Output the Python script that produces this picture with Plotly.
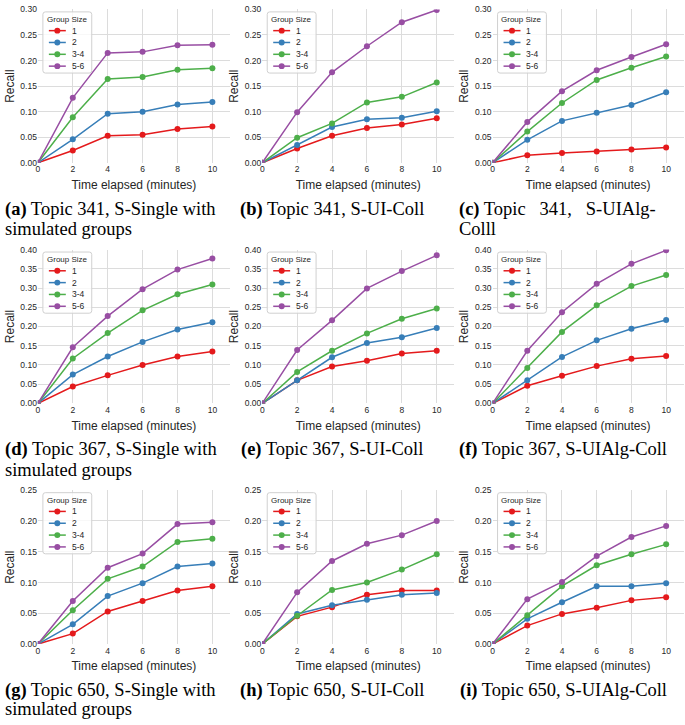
import plotly.graph_objects as go

W, H = 685, 725

# ---------------- data ----------------
times = [0, 2, 4, 6, 8, 10]
group_labels = ["1", "2", "3-4", "5-6"]
group_colors = ["#e41a1c", "#377eb8", "#4daf4a", "#984ea3"]

x_ticks = [0, 2, 4, 6, 8, 10]
y_ranges = [[0, 0.30], [0, 0.40], [0, 0.25]]  # one per row

# (a) Topic 341, S-Single with simulated groups
a_g1 = [0.0, 0.024, 0.053, 0.055, 0.066, 0.071]
a_g2 = [0.0, 0.046, 0.096, 0.100, 0.114, 0.119]
a_g34 = [0.0, 0.089, 0.164, 0.168, 0.182, 0.185]
a_g56 = [0.0, 0.127, 0.215, 0.217, 0.230, 0.231]
# (b) Topic 341, S-UI-Coll
b_g1 = [0.0, 0.028, 0.053, 0.068, 0.075, 0.087]
b_g2 = [0.0, 0.035, 0.070, 0.085, 0.088, 0.101]
b_g34 = [0.0, 0.049, 0.077, 0.118, 0.129, 0.157]
b_g56 = [0.0, 0.099, 0.177, 0.228, 0.275, 0.299]
# (c) Topic 341, S-UIAlg-Colll
c_g1 = [0.0, 0.015, 0.019, 0.022, 0.026, 0.030]
c_g2 = [0.0, 0.045, 0.082, 0.098, 0.113, 0.138]
c_g34 = [0.0, 0.061, 0.117, 0.162, 0.186, 0.208]
c_g56 = [0.0, 0.080, 0.140, 0.181, 0.207, 0.232]
# (d) Topic 367, S-Single with simulated groups
d_g1 = [0.0, 0.044, 0.073, 0.100, 0.122, 0.135]
d_g2 = [0.0, 0.075, 0.122, 0.160, 0.192, 0.211]
d_g34 = [0.0, 0.117, 0.183, 0.242, 0.284, 0.309]
d_g56 = [0.0, 0.146, 0.227, 0.297, 0.348, 0.377]
# (e) Topic 367, S-UI-Coll
e_g1 = [0.0, 0.060, 0.096, 0.111, 0.130, 0.137]
e_g2 = [0.0, 0.060, 0.120, 0.157, 0.172, 0.196]
e_g34 = [0.0, 0.082, 0.137, 0.182, 0.220, 0.247]
e_g56 = [0.0, 0.139, 0.216, 0.299, 0.344, 0.385]
# (f) Topic 367, S-UIAlg-Coll
f_g1 = [0.0, 0.046, 0.072, 0.097, 0.116, 0.123]
f_g2 = [0.0, 0.060, 0.121, 0.164, 0.194, 0.217]
f_g34 = [0.0, 0.092, 0.186, 0.255, 0.305, 0.334]
f_g56 = [0.0, 0.137, 0.237, 0.311, 0.363, 0.398]
# (g) Topic 650, S-Single with simulated groups
g_g1 = [0.0, 0.017, 0.053, 0.070, 0.087, 0.094]
g_g2 = [0.0, 0.032, 0.078, 0.099, 0.126, 0.131]
g_g34 = [0.0, 0.055, 0.106, 0.126, 0.166, 0.171]
g_g56 = [0.0, 0.070, 0.124, 0.147, 0.195, 0.198]
# (h) Topic 650, S-UI-Coll
h_g1 = [0.0, 0.045, 0.060, 0.080, 0.087, 0.087]
h_g2 = [0.0, 0.049, 0.063, 0.072, 0.080, 0.083]
h_g34 = [0.0, 0.046, 0.088, 0.100, 0.121, 0.146]
h_g56 = [0.0, 0.084, 0.135, 0.163, 0.177, 0.200]
# (i) Topic 650, S-UIAlg-Coll
i_g1 = [0.0, 0.030, 0.049, 0.059, 0.071, 0.076]
i_g2 = [0.0, 0.041, 0.068, 0.094, 0.094, 0.099]
i_g34 = [0.0, 0.047, 0.094, 0.128, 0.146, 0.162]
i_g56 = [0.0, 0.073, 0.101, 0.143, 0.174, 0.192]

panels = [
    [a_g1, a_g2, a_g34, a_g56],
    [b_g1, b_g2, b_g34, b_g56],
    [c_g1, c_g2, c_g34, c_g56],
    [d_g1, d_g2, d_g34, d_g56],
    [e_g1, e_g2, e_g34, e_g56],
    [f_g1, f_g2, f_g34, f_g56],
    [g_g1, g_g2, g_g34, g_g56],
    [h_g1, h_g2, h_g34, h_g56],
    [i_g1, i_g2, i_g34, i_g56],
]

# captions: (lines, anchor mode)
captions = [
    (["<b>(a)</b> Topic 341, S-Single with", "simulated groups"], "left"),
    (["<b>(b)</b> Topic 341, S-UI-Coll"], "center"),
    (["<b>(c)</b> Topic\u00a0\u00a0\u00a0341,\u00a0\u00a0\u00a0S-UIAlg-", "Colll"], "left"),
    (["<b>(d)</b> Topic 367, S-Single with", "simulated groups"], "left"),
    (["<b>(e)</b> Topic 367, S-UI-Coll"], "center"),
    (["<b>(f)</b> Topic 367, S-UIAlg-Coll"], "center"),
    (["<b>(g)</b> Topic 650, S-Single with", "simulated groups"], "left"),
    (["<b>(h)</b> Topic 650, S-UI-Coll"], "center"),
    (["<b>(i)</b> Topic 650, S-UIAlg-Coll"], "center"),
]

# ---------------- layout geometry (pixels) ----------------
col_px = [(36, 228.5), (261, 453.5), (492, 683.5)]
row_px = [(4.5, 160), (248, 404), (492, 648)]
caption_left = [1, 236, 456]
caption_center = [113, 331, 563]
caption_y = [(207, 227), (451, 471), (695, 714)]

def px(x):
    return x / W

def py(y):
    return 1 - y / H

SANS = "Liberation Sans, Arial, sans-serif"
SERIF = "Liberation Serif, Times New Roman, serif"
TXT = "#262626"
GRID = "#dcdcdc"

fig = go.Figure()
layout = dict(
    width=W, height=H,
    margin=dict(l=0, r=0, t=0, b=0),
    paper_bgcolor="white", plot_bgcolor="white",
    showlegend=False,
    font=dict(family=SANS, color=TXT),
)
shapes = []
annotations = []

for k, series in enumerate(panels):
    r, c = divmod(k, 3)
    n = "" if k == 0 else str(k + 1)
    L, R = col_px[c]
    T, B = row_px[r]
    layout["xaxis" + n] = dict(
        domain=[px(L), px(R)], anchor="y" + n, range=[0, 11],
        tickvals=x_ticks, showgrid=True, gridcolor=GRID, gridwidth=1,
        zeroline=False, showline=False, ticks="",
        tickfont=dict(size=8.5, color=TXT),
        title=dict(text="Time elapsed (minutes)", font=dict(size=12, color=TXT), standoff=7),
    )
    layout["yaxis" + n] = dict(
        domain=[py(B), py(T)], anchor="x" + n, range=y_ranges[r],
        dtick=0.05, tickformat=".2f", showgrid=True, gridcolor=GRID, gridwidth=1,
        zeroline=False, showline=False, ticks="",
        tickfont=dict(size=8.5, color=TXT),
        title=dict(text="Recall", font=dict(size=12, color=TXT), standoff=3),
    )
    for j, ys in enumerate(series):
        fig.add_trace(go.Scatter(
            x=times, y=ys, mode="lines+markers", name=group_labels[j],
            line=dict(color=group_colors[j], width=1.5),
            marker=dict(color=group_colors[j], size=6),
            xaxis="x" + n, yaxis="y" + n,
            hovertemplate="%{x}, %{y}<extra>" + group_labels[j] + "</extra>",
        ))

    # legend box (drawn in paper space)
    bx0, bx1 = L + 5, L + 54
    by0, by1 = T + 2.5, T + 64.5
    rr = 2.5
    path = (
        f"M {px(bx0+rr)},{py(by0)} L {px(bx1-rr)},{py(by0)} "
        f"Q {px(bx1)},{py(by0)} {px(bx1)},{py(by0+rr)} "
        f"L {px(bx1)},{py(by1-rr)} Q {px(bx1)},{py(by1)} {px(bx1-rr)},{py(by1)} "
        f"L {px(bx0+rr)},{py(by1)} Q {px(bx0)},{py(by1)} {px(bx0)},{py(by1-rr)} "
        f"L {px(bx0)},{py(by0+rr)} Q {px(bx0)},{py(by0)} {px(bx0+rr)},{py(by0)} Z"
    )
    shapes.append(dict(type="path", xref="paper", yref="paper", path=path,
                       fillcolor="rgba(255,255,255,0.8)",
                       line=dict(color="#d0d0d0", width=1), layer="above"))
    annotations.append(dict(
        xref="paper", yref="paper", x=px((bx0 + bx1) / 2), y=py(T + 10.5),
        text="Group Size", showarrow=False, xanchor="center", yanchor="middle",
        font=dict(size=8, color=TXT, family=SANS),
    ))
    for j, lab in enumerate(group_labels):
        yy = T + 21.5 + 12 * j
        shapes.append(dict(type="line", xref="paper", yref="paper",
                           x0=px(L + 11), x1=px(L + 28), y0=py(yy), y1=py(yy),
                           line=dict(color=group_colors[j], width=1.5), layer="above"))
        shapes.append(dict(type="circle", xref="paper", yref="paper",
                           x0=px(L + 16.5), x1=px(L + 22.5), y0=py(yy - 3), y1=py(yy + 3),
                           fillcolor=group_colors[j], line=dict(width=0), layer="above"))
        annotations.append(dict(
            xref="paper", yref="paper", x=px(L + 32), y=py(yy),
            text=lab, showarrow=False, xanchor="left", yanchor="middle",
            font=dict(size=8.5, color=TXT, family=SANS),
        ))

    # caption
    lines, mode = captions[k]
    for li, t in enumerate(lines):
        if mode == "left":
            xx, xa = caption_left[c], "left"
        else:
            xx, xa = caption_center[c], "center"
        annotations.append(dict(
            xref="paper", yref="paper", x=px(xx), y=py(caption_y[r][li]),
            text=t, showarrow=False, xanchor=xa, yanchor="middle",
            font=dict(size=18.5, color="black", family=SERIF),
        ))

layout["shapes"] = shapes
layout["annotations"] = annotations
fig.update_layout(**layout)
fig.write_html("out.html", config={"displayModeBar": False},
               post_script="document.body.style.margin='0';")
